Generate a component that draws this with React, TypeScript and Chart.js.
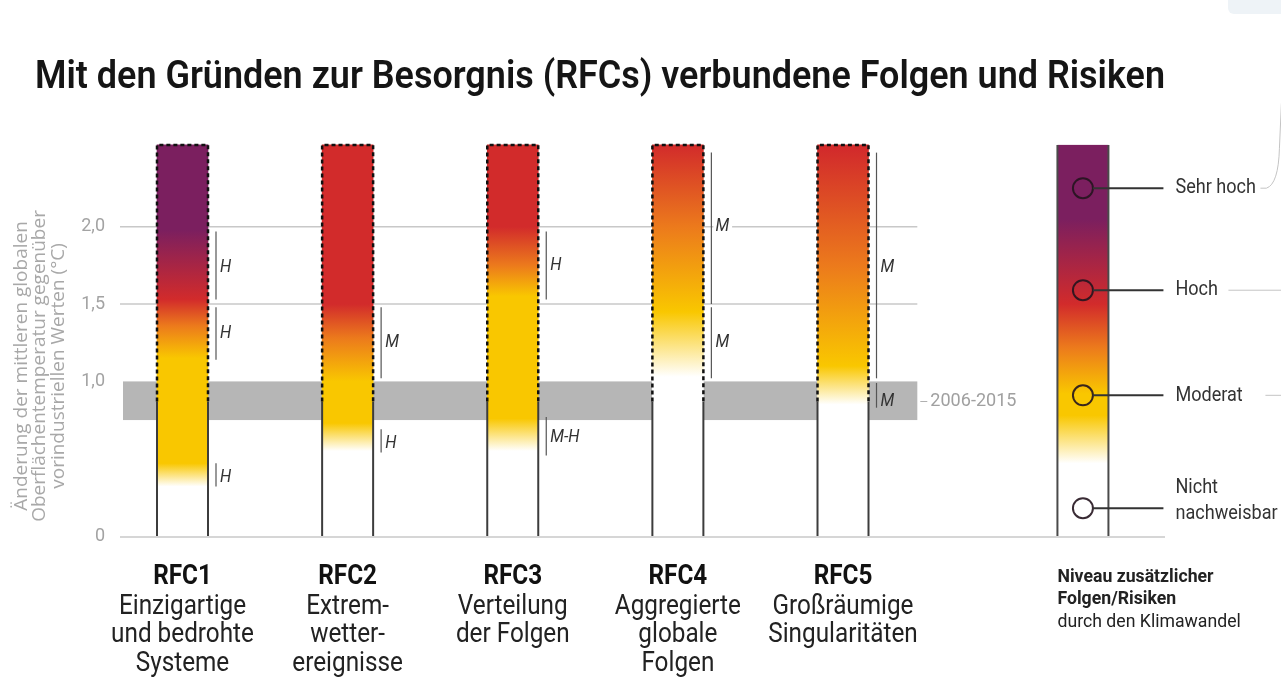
import React, { useEffect, useRef } from 'react';
import { Chart, registerables } from 'chart.js';

Chart.register(...registerables);

// ---------- data ----------
const TITLE = 'Mit den Gründen zur Besorgnis (RFCs) verbundene Folgen und Risiken';
const Y_TITLE = ['Änderung der mittleren globalen', 'Oberflächentemperatur gegenüber', 'vorindustriellen Werten (°C)'];
const CATEGORY_CODES = ['RFC1', 'RFC2', 'RFC3', 'RFC4', 'RFC5'];
const CATEGORY_NAMES = [
  ['Einzigartige', 'und bedrohte', 'Systeme'],
  ['Extrem-', 'wetter-', 'ereignisse'],
  ['Verteilung', 'der Folgen'],
  ['Aggregierte', 'globale', 'Folgen'],
  ['Großräumige', 'Singularitäten'],
];
const BAR_POSITIONS = [1, 2, 3, 4, 5];
const BAR_TOPS = [2.53, 2.53, 2.53, 2.53, 2.53];
const TICK_VALUES = [0, 1.0, 1.5, 2.0];
const GRID_VALUES = [1.5, 2.0];
const BAND_RANGE = [0.75, 1.0];
const BAND_LABEL = '2006-2015';
const BAND_LABEL_VALUE = 0.87;
const SOLID_OUTLINE_TOP = 0.87;

// ember transitions: [°C, risk level]
const RFC1_EMBER = [[0.32, 'none'], [0.47, 'moderate'], [1.15, 'moderate'], [1.36, 'orange'], [1.53, 'high'], [1.98, 'veryHigh']];
const RFC2_EMBER = [[0.55, 'none'], [0.73, 'moderate'], [1.0, 'moderate'], [1.28, 'orange'], [1.5, 'high']];
const RFC3_EMBER = [[0.55, 'none'], [0.76, 'moderate'], [1.55, 'moderate'], [1.75, 'orange'], [2.0, 'high']];
const RFC4_EMBER = [[1.03, 'none'], [1.45, 'moderate'], [2.0, 'orange'], [2.53, 'high']];
const RFC5_EMBER = [[0.85, 'none'], [1.1, 'moderate'], [1.75, 'orange'], [2.5, 'high']];
const KEY_EMBER = [[0.47, 'none'], [0.78, 'moderate'], [0.92, 'moderate'], [1.22, 'orange'], [1.5, 'high'], [2.05, 'veryHigh']];
const EMBERS = [RFC1_EMBER, RFC2_EMBER, RFC3_EMBER, RFC4_EMBER, RFC5_EMBER];

// confidence: [from °C, to °C, label, label position °C]
const RFC1_CONFIDENCE = [[1.97, 1.53, 'H', 1.74], [1.48, 1.14, 'H', 1.31], [0.47, 0.32, 'H', 0.38]];
const RFC2_CONFIDENCE = [[1.48, 1.02, 'M', 1.25], [0.69, 0.54, 'H', 0.6]];
const RFC3_CONFIDENCE = [[1.97, 1.53, 'H', 1.75], [0.77, 0.52, 'M-H', 0.64]];
const RFC4_CONFIDENCE = [[2.48, 1.5, 'M', 2.0], [1.48, 1.02, 'M', 1.25]];
const RFC5_CONFIDENCE = [[2.48, 1.02, 'M', 1.74], [0.99, 0.83, 'M', 0.87]];
const CONFIDENCE = [RFC1_CONFIDENCE, RFC2_CONFIDENCE, RFC3_CONFIDENCE, RFC4_CONFIDENCE, RFC5_CONFIDENCE];

const KEY_TOP = 2.53;
const KEY_MARKER_VALUES = [2.25, 1.59, 0.91, 0.18];
const KEY_LABELS = [['Sehr hoch'], ['Hoch'], ['Moderat'], ['Nicht', 'nachweisbar']];
const KEY_CAPTION = ['Niveau zusätzlicher', 'Folgen/Risiken', 'durch den Klimawandel'];

// ---------- style ----------
const LEVEL_COLORS: Record<string, string> = {
  none: '#ffffff',
  moderate: '#f9c700',
  orange: '#ec7a1c',
  high: '#d22b2b',
  veryHigh: '#7b1f5f',
};
const NARROW = "'Liberation Sans Narrow', 'Arial Narrow', Roboto, sans-serif";
const X_MIN = 0.6215;
const X_MAX = 6.95;
const GRID_END = 5.45;
const KEY_POSITION = 6.453;
const BAR_PX = 51;

function emberGradient(ctx: CanvasRenderingContext2D, y: any, stops: any[], top: number) {
  const y0 = y.getPixelForValue(0);
  const y1 = y.getPixelForValue(top);
  const g = ctx.createLinearGradient(0, y0, 0, y1);
  g.addColorStop(0, LEVEL_COLORS[stops[0][1]]);
  stops.forEach(([v, l]) => g.addColorStop(Math.min(1, Math.max(0, v / top)), LEVEL_COLORS[l]));
  g.addColorStop(1, LEVEL_COLORS[stops[stops.length - 1][1]]);
  return g;
}

function line(ctx: CanvasRenderingContext2D, x1: number, y1: number, x2: number, y2: number) {
  ctx.beginPath();
  ctx.moveTo(x1, y1);
  ctx.lineTo(x2, y2);
  ctx.stroke();
}

// draw text horizontally condensed (narrow-font look)
function narrowText(ctx: CanvasRenderingContext2D, t: string, x: number, y: number, factor: number) {
  ctx.fillText(t, x, y, ctx.measureText(t).width * factor);
}

const embersPlugin = {
  id: 'embers',
  beforeDatasetsDraw(chart: any) {
    const { ctx, chartArea, scales } = chart;
    const { x, y } = scales;
    const xl = chartArea.left;
    const xr = x.getPixelForValue(GRID_END);
    ctx.save();
    const bt = y.getPixelForValue(BAND_RANGE[1]);
    const bb = y.getPixelForValue(BAND_RANGE[0]);
    ctx.fillStyle = '#b6b6b6';
    ctx.fillRect(xl + 3, bt, xr - xl - 3, bb - bt);
    ctx.strokeStyle = '#c8c8c8';
    ctx.lineWidth = 1.5;
    GRID_VALUES.forEach((v) => {
      const py = y.getPixelForValue(v);
      line(ctx, xl, py, xr, py);
    });
    const p0 = y.getPixelForValue(0);
    line(ctx, xl, p0 + 1, chartArea.right, p0 + 1);
    const py = y.getPixelForValue(BAND_LABEL_VALUE);
    ctx.strokeStyle = '#b0b0b0';
    ctx.lineWidth = 1;
    line(ctx, xr + 3, py, xr + 10, py);
    ctx.fillStyle = '#a0a0a0';
    ctx.font = `19px ${NARROW}`;
    ctx.textAlign = 'left';
    ctx.textBaseline = 'middle';
    narrowText(ctx, BAND_LABEL, xr + 13, py, 0.95);
    ctx.restore();
  },
  afterDatasetsDraw(chart: any) {
    const { ctx, scales } = chart;
    const { x, y } = scales;
    const meta = chart.getDatasetMeta(0);
    ctx.save();
    const ySolid = y.getPixelForValue(SOLID_OUTLINE_TOP);
    meta.data.forEach((el: any, i: number) => {
      const w = el.width;
      const left = el.x - w / 2;
      const right = el.x + w / 2;
      const top = el.y;
      const base = el.base;
      ctx.setLineDash([]);
      ctx.strokeStyle = '#3c3c3c';
      ctx.lineWidth = 2;
      line(ctx, left, base, left, ySolid);
      line(ctx, right, base, right, ySolid);
      ctx.setLineDash([4, 3]);
      ctx.strokeStyle = '#111';
      ctx.lineWidth = 2.5;
      ctx.beginPath();
      ctx.moveTo(left, ySolid);
      ctx.lineTo(left, top);
      ctx.lineTo(right, top);
      ctx.lineTo(right, ySolid);
      ctx.stroke();
      ctx.setLineDash([]);
      const lx = right + 8;
      CONFIDENCE[i].forEach(([from, to, label, at]: any) => {
        ctx.strokeStyle = '#555';
        ctx.lineWidth = 1.2;
        line(ctx, lx, y.getPixelForValue(from), lx, y.getPixelForValue(to));
        ctx.font = `italic 18px ${NARROW}`;
        ctx.textAlign = 'left';
        ctx.textBaseline = 'middle';
        const py = y.getPixelForValue(at);
        const tw = ctx.measureText(label).width * 0.9;
        const inBand = at >= BAND_RANGE[0] && at <= BAND_RANGE[1];
        if (!inBand) {
          ctx.fillStyle = '#fff';
          ctx.fillRect(lx + 2, py - 8, tw + 5, 16);
        }
        ctx.fillStyle = '#333';
        narrowText(ctx, label, lx + 4, py, 0.9);
      });
    });

    // key (legend) ember
    const kx = x.getPixelForValue(KEY_POSITION);
    const kl = kx - BAR_PX / 2;
    const kr = kx + BAR_PX / 2;
    const kt = y.getPixelForValue(KEY_TOP);
    const kb = y.getPixelForValue(0);
    ctx.fillStyle = emberGradient(ctx, y, KEY_EMBER, KEY_TOP);
    ctx.fillRect(kl, kt, kr - kl, kb - kt);
    ctx.strokeStyle = '#4a4a4a';
    ctx.lineWidth = 2;
    line(ctx, kl, kt, kl, kb);
    line(ctx, kr, kt, kr, kb);
    KEY_MARKER_VALUES.forEach((v, i) => {
      const py = y.getPixelForValue(v);
      ctx.strokeStyle = 'rgba(35,20,30,0.9)';
      ctx.lineWidth = 2;
      ctx.beginPath();
      ctx.arc(kx, py, 10, 0, Math.PI * 2);
      ctx.stroke();
      ctx.strokeStyle = '#333';
      line(ctx, kx + 10, py, kr + 55, py);
      ctx.fillStyle = '#333';
      ctx.font = `21px ${NARROW}`;
      ctx.textAlign = 'left';
      ctx.textBaseline = 'middle';
      const labels = KEY_LABELS[i];
      if (labels.length === 1) {
        narrowText(ctx, labels[0], kr + 67, py, 0.86);
      } else {
        narrowText(ctx, labels[0], kr + 67, py - 20, 0.86);
        narrowText(ctx, labels[1], kr + 67, py + 6, 0.86);
      }
    });
    // cropped-off decorations on the right edge
    ctx.strokeStyle = '#c4c4c4';
    ctx.lineWidth = 1;
    const pHoch = y.getPixelForValue(KEY_MARKER_VALUES[1]);
    line(ctx, kr + 120, pHoch, 1281, pHoch);
    const pMod = y.getPixelForValue(KEY_MARKER_VALUES[2]);
    line(ctx, kr + 157, pMod, 1281, pMod);
    const pSehr = y.getPixelForValue(KEY_MARKER_VALUES[0]);
    ctx.beginPath();
    ctx.moveTo(kr + 152, pSehr);
    ctx.lineTo(kr + 158, pSehr);
    ctx.quadraticCurveTo(kr + 170, pSehr - 4, kr + 171, pSehr - 40);
    ctx.lineTo(kr + 173, pSehr - 85);
    ctx.stroke();
    ctx.fillStyle = '#eef3f7';
    ctx.beginPath();
    ctx.roundRect(1228, -8, 70, 22, 6);
    ctx.fill();
    ctx.restore();
  },
  afterDraw(chart: any) {
    const { ctx, scales, chartArea } = chart;
    const { x, y } = scales;
    ctx.save();
    ctx.fillStyle = '#a8a8a8';
    ctx.font = `19px 'Open Sans', sans-serif`;
    ctx.textAlign = 'center';
    ctx.textBaseline = 'middle';
    ctx.translate(40, y.getPixelForValue(1.1));
    ctx.rotate(-Math.PI / 2);
    Y_TITLE.forEach((t, i) => ctx.fillText(t, 0, (i - 1) * 18.5));
    ctx.restore();

    ctx.save();
    ctx.textAlign = 'center';
    ctx.textBaseline = 'middle';
    BAR_POSITIONS.forEach((p, i) => {
      const px = x.getPixelForValue(p);
      ctx.fillStyle = '#111';
      ctx.font = `bold 27px ${NARROW}`;
      narrowText(ctx, CATEGORY_CODES[i], px, chartArea.bottom + 41, 0.9);
      ctx.fillStyle = '#222';
      ctx.font = `27px ${NARROW}`;
      CATEGORY_NAMES[i].forEach((t, j) => narrowText(ctx, t, px, chartArea.bottom + 71 + j * 28.5, 0.9));
    });
    const kl = x.getPixelForValue(KEY_POSITION) - BAR_PX / 2;
    ctx.textAlign = 'left';
    ctx.fillStyle = '#222';
    KEY_CAPTION.forEach((t, j) => {
      ctx.font = j < 2 ? `bold 19px ${NARROW}` : `19px ${NARROW}`;
      narrowText(ctx, t, kl, chartArea.bottom + 41 + j * 22.5, 0.93);
    });
    ctx.restore();
  },
};

export default function App() {
  const canvasRef = useRef<HTMLCanvasElement | null>(null);

  useEffect(() => {
    document.body.style.margin = '0';
    document.body.style.overflow = 'hidden';
    const canvas = canvasRef.current;
    if (!canvas) return;
    const chart = new Chart(canvas, {
      type: 'bar',
      data: {
        datasets: [
          {
            label: 'RFC',
            data: BAR_POSITIONS.map((p, i) => ({ x: p, y: BAR_TOPS[i] })),
            backgroundColor: (c: any) => {
              const ch = c.chart;
              if (!ch.chartArea || c.dataIndex == null || !ch.scales.y) return '#ffffff';
              return emberGradient(ch.ctx, ch.scales.y, EMBERS[c.dataIndex], BAR_TOPS[c.dataIndex]);
            },
            borderWidth: 0,
            barThickness: BAR_PX,
          },
        ],
      },
      options: {
        animation: false,
        responsive: true,
        maintainAspectRatio: false,
        layout: { padding: { top: 0, left: 35, right: 116, bottom: 149 } },
        plugins: {
          legend: { display: false },
          tooltip: { enabled: false },
          title: {
            display: true,
            text: TITLE,
            align: 'start',
            color: '#151515',
            font: { family: NARROW, size: 39, weight: '600' },
            padding: { top: 55, bottom: 40 },
          },
        },
        scales: {
          x: { type: 'linear', min: X_MIN, max: X_MAX, offset: false, display: false },
          y: {
            min: 0,
            max: 2.55,
            afterBuildTicks: (s: any) => {
              s.ticks = TICK_VALUES.map((v) => ({ value: v }));
            },
            afterFit: (s: any) => {
              s.width = 85;
            },
            grid: { display: false, drawTicks: false },
            border: { display: false },
            ticks: {
              padding: 15,
              color: '#a3a3a3',
              font: { family: NARROW, size: 18 },
              callback: (v: any) => (Number(v) === 0 ? '0' : Number(v).toFixed(1).replace('.', ',')),
            },
          },
        },
      },
      plugins: [embersPlugin],
    } as any);
    return () => chart.destroy();
  }, []);

  return (
    <div style={{ position: 'relative', width: '1281px', height: '685px' }}>
      <canvas ref={canvasRef} />
    </div>
  );
}
